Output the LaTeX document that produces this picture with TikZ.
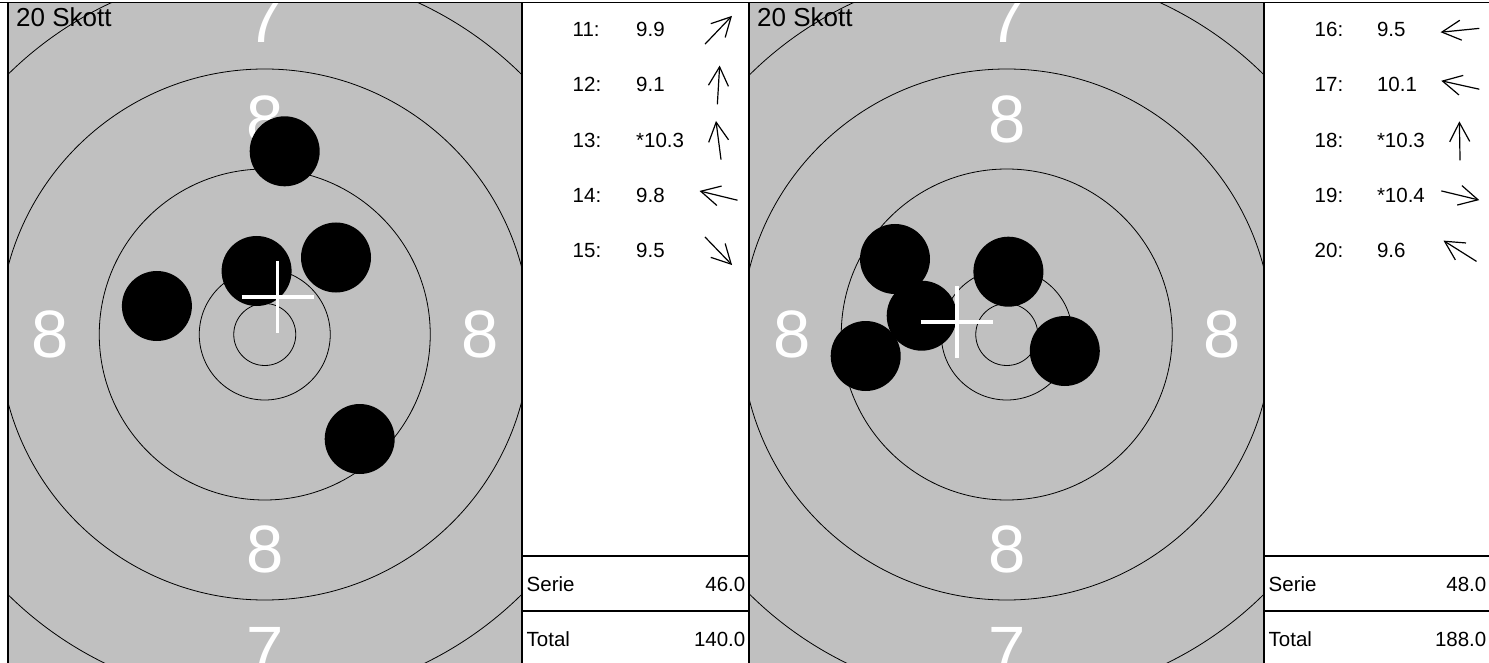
\documentclass[tikz,border=0pt]{standalone}
\usepackage{fontspec}
\setmainfont{Liberation Sans}
\usetikzlibrary{arrows.meta}
\definecolor{targetgrey}{RGB}{192,192,192}

\begin{document}
\begin{tikzpicture}[
  x=1pt,y=-1pt,
  >={Straight Barb[length=19pt,width=20pt]},
  ring/.style={draw=black,line width=0.8pt},
  shot/.style={circle,fill=black,minimum size=70pt,inner sep=0pt},
  aimcross/.style={draw=white,line width=3.5pt},
  zone/.style={text=white,inner sep=0pt,font=\fontsize{67}{67}\selectfont},
  heading/.style={inner sep=0pt,anchor=base west,font=\fontsize{26}{30}\selectfont},
  entry/.style={inner sep=0pt,anchor=base west,font=\fontsize{20.5}{24}\selectfont},
  sumval/.style={inner sep=0pt,anchor=base east,font=\fontsize{20.5}{24}\selectfont},
  dir/.style={->,line width=1.2pt},
  frame/.style={draw=black,line width=1.2pt}
]
  \useasboundingbox (0,0) rectangle (1489,663);

  % left target, shots 11-15
  \fill[targetgrey] (8.5,3.5) rectangle (521,663);
  \coordinate (ctrA) at (264.75,334.5);
  \begin{scope}
    \clip (8.5,3.5) rectangle (521,663);
    \draw[ring] (ctrA) circle[radius=31pt];
    \draw[ring] (ctrA) circle[radius=65.5pt];
    \draw[ring] (ctrA) circle[radius=165.5pt];
    \draw[ring] (ctrA) circle[radius=265.5pt];
    \draw[ring] (ctrA) circle[radius=365.5pt];
    \node[zone] (a8n) at (264.75,119.5) {8};
    \node[zone] (a8s) at (264.75,549.5) {8};
    \node[zone] (a8w) at (49.75,334.5) {8};
    \node[zone] (a8e) at (479.75,334.5) {8};
    \node[zone] (a7n) at (264.75,19) {7};
    \node[zone] (a7s) at (264.75,650) {7};
    \node[shot] (s11) at (284.7,151.3) {};
    \node[shot] (s12) at (336,257.5) {};
    \node[shot] (s13) at (256.6,271) {};
    \node[shot] (s14) at (156.9,306) {};
    \node[shot] (s15) at (359.7,439) {};
    \coordinate (mpiA) at (277.6,297);
    \draw[aimcross] (mpiA) +(0,-36) -- +(0,36) (mpiA) +(-36,0) -- +(36,0);
  \end{scope}
  \node[heading] (countA) at (16,26.7) {20 Skott};

  % right target, shots 16-20
  \fill[targetgrey] (750,3.5) rectangle (1263.5,663);
  \coordinate (ctrB) at (1006.75,334.5);
  \begin{scope}
    \clip (750,3.5) rectangle (1263.5,663);
    \draw[ring] (ctrB) circle[radius=31pt];
    \draw[ring] (ctrB) circle[radius=65.5pt];
    \draw[ring] (ctrB) circle[radius=165.5pt];
    \draw[ring] (ctrB) circle[radius=265.5pt];
    \draw[ring] (ctrB) circle[radius=365.5pt];
    \node[zone] (b8n) at (1006.75,119.5) {8};
    \node[zone] (b8s) at (1006.75,549.5) {8};
    \node[zone] (b8w) at (791.75,334.5) {8};
    \node[zone] (b8e) at (1221.75,334.5) {8};
    \node[zone] (b7n) at (1006.75,19) {7};
    \node[zone] (b7s) at (1006.75,650) {7};
    \node[shot] (s16) at (895,259) {};
    \node[shot] (s17) at (1008.4,271.7) {};
    \node[shot] (s18) at (921.7,315.7) {};
    \node[shot] (s19) at (865.7,356) {};
    \node[shot] (s20) at (1064.8,351) {};
    \coordinate (mpiB) at (956.8,322);
    \draw[aimcross] (mpiB) +(0,-36) -- +(0,36) (mpiB) +(-36,0) -- +(36,0);
  \end{scope}
  \node[heading] (countB) at (757,26.7) {20 Skott};

  % frames of the score lists
  \draw[frame] (0,2.5) -- (1489,2.5);
  \draw[frame] (8,2.5) -- (8,663);
  \draw[frame] (522,2.5) -- (522,663);
  \draw[frame] (749,2.5) -- (749,663);
  \draw[frame] (1264,2.5) -- (1264,663);
  \draw[frame] (522,556) -- (749,556) (522,611) -- (749,611);
  \draw[frame] (1264,556) -- (1489,556) (1264,611) -- (1489,611);

  % list A
  \node[entry] (n11) at (572.5,36.7) {11:};
  \node[entry] (v11) at (636,36.7) {9.9};
  \node[entry] (n12) at (572.5,92) {12:};
  \node[entry] (v12) at (636,92) {9.1};
  \node[entry] (n13) at (572.5,147.3) {13:};
  \node[entry] (v13) at (636,147.3) {*10.3};
  \node[entry] (n14) at (572.5,202.7) {14:};
  \node[entry] (v14) at (636,202.7) {9.8};
  \node[entry] (n15) at (572.5,258) {15:};
  \node[entry] (v15) at (636,258) {9.5};
  \coordinate (d11) at (718.5,30);
  \coordinate (d12) at (718.5,85);
  \coordinate (d13) at (718.5,140.3);
  \coordinate (d14) at (718.5,195.6);
  \coordinate (d15) at (718.5,251);
  \draw[dir] ([shift={(133.7:19.5)}]d11) -- ([shift={(-46.3:19.5)}]d11);
  \draw[dir] ([shift={(93.4:19.5)}]d12) -- ([shift={(-86.6:19.5)}]d12);
  \draw[dir] ([shift={(82.6:19.5)}]d13) -- ([shift={(-97.4:19.5)}]d13);
  \draw[dir] ([shift={(13.7:19.5)}]d14) -- ([shift={(-166.3:19.5)}]d14);
  \draw[dir] ([shift={(-134:19.5)}]d15) -- ([shift={(46:19.5)}]d15);
  \node[entry] (serA) at (526.5,591) {Serie};
  \node[sumval] (serAv) at (745.5,591) {46.0};
  \node[entry] (totA) at (526.5,646) {Total};
  \node[sumval] (totAv) at (745.5,646) {140.0};

  % list B
  \node[entry] (n16) at (1314.5,36.7) {16:};
  \node[entry] (v16) at (1376.8,36.7) {9.5};
  \node[entry] (n17) at (1314.5,92) {17:};
  \node[entry] (v17) at (1376.8,92) {10.1};
  \node[entry] (n18) at (1314.5,147.3) {18:};
  \node[entry] (v18) at (1376.8,147.3) {*10.3};
  \node[entry] (n19) at (1314.5,202.7) {19:};
  \node[entry] (v19) at (1376.8,202.7) {*10.4};
  \node[entry] (n20) at (1314.5,258) {20:};
  \node[entry] (v20) at (1376.8,258) {9.6};
  \coordinate (d16) at (1460,30.3);
  \coordinate (d17) at (1460.3,85);
  \coordinate (d18) at (1459.7,140.8);
  \coordinate (d19) at (1460.3,195.5);
  \coordinate (d20) at (1460,251);
  \draw[dir] ([shift={(-5.7:19.5)}]d16) -- ([shift={(174.3:19.5)}]d16);
  \draw[dir] ([shift={(12.5:19.5)}]d17) -- ([shift={(-167.5:19.5)}]d17);
  \draw[dir] ([shift={(89:19.5)}]d18) -- ([shift={(-91:19.5)}]d18);
  \draw[dir] ([shift={(-166.4:19.5)}]d19) -- ([shift={(13.6:19.5)}]d19);
  \draw[dir] ([shift={(32.2:19.5)}]d20) -- ([shift={(-147.8:19.5)}]d20);
  \node[entry] (serB) at (1268.5,591) {Serie};
  \node[sumval] (serBv) at (1486.5,591) {48.0};
  \node[entry] (totB) at (1268.5,646) {Total};
  \node[sumval] (totBv) at (1486.5,646) {188.0};
\end{tikzpicture}
\end{document}
